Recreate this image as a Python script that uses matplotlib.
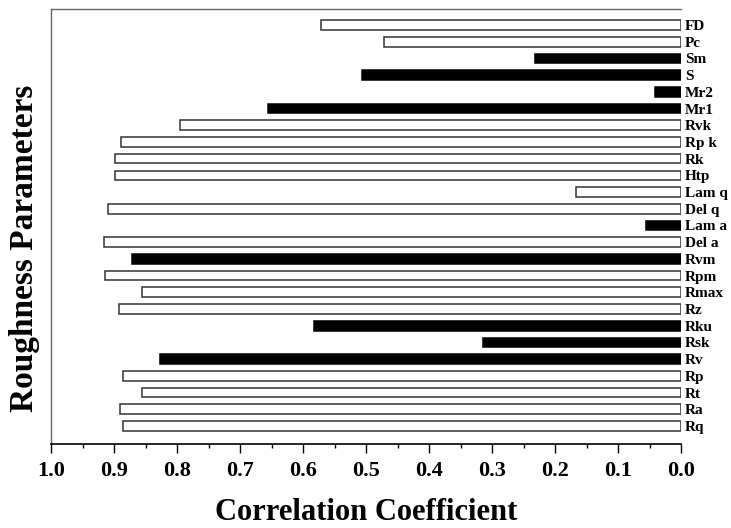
import numpy as np
import matplotlib
matplotlib.use('Agg')
import matplotlib.pyplot as plt
from matplotlib.ticker import MultipleLocator

# parameters listed bottom -> top
params = ['Rq', 'Ra', 'Rt', 'Rp', 'Rv', 'Rsk', 'Rku', 'Rz', 'Rmax', 'Rpm',
          'Rvm', 'Del a', 'Lam a', 'Del q', 'Lam q', 'Htp', 'Rk', 'Rp k',
          'Rvk', 'Mr1', 'Mr2', 'S', 'Sm', 'Pc', 'FD']
corr = [0.886, 0.891, 0.856, 0.886, 0.827, 0.315, 0.582, 0.892, 0.856, 0.914,
        0.872, 0.916, 0.055, 0.910, 0.167, 0.899, 0.899, 0.889,
        0.796, 0.655, 0.041, 0.506, 0.231, 0.472, 0.571]
# 1 = negative correlation (black bar)
negative = [0, 0, 0, 0, 1, 1, 1, 0, 0, 0,
            1, 0, 1, 0, 0, 0, 0, 0,
            0, 1, 1, 1, 1, 0, 0]

plt.rcParams['font.family'] = ['Liberation Serif', 'DejaVu Serif']
plt.rcParams['font.weight'] = 'bold'

fig = plt.figure(figsize=(7.31, 5.28), dpi=100)
ax = fig.add_axes([0.0698, 0.1591, 0.8618, 0.8233])

y = np.arange(len(params))
colors = ['black' if n else 'white' for n in negative]
edges = ['black' if n else '#333333' for n in negative]
ax.barh(y, corr, height=0.58, color=colors, edgecolor=edges, linewidth=1.1)

ax.set_xlim(1.0, 0.0)
ax.set_ylim(-1.08, 24.94)

ax.xaxis.set_major_locator(MultipleLocator(0.1))
ax.xaxis.set_minor_locator(MultipleLocator(0.05))
ax.tick_params(axis='x', which='major', direction='out', length=6.5, width=1.0,
               labelsize=16, pad=6)
ax.tick_params(axis='x', which='minor', direction='out', length=3, width=1.0)
ax.set_xticklabels(['%.1f' % v for v in ax.get_xticks()], fontweight='bold')

ax.yaxis.tick_right()
ax.set_yticks(y)
ax.set_yticklabels(params, fontsize=11, fontweight='bold')
ax.tick_params(axis='y', length=0, pad=3)

ax.spines['right'].set_visible(False)
ax.spines['top'].set_color('#666666')
ax.spines['top'].set_linewidth(1.0)
ax.spines['left'].set_color('#666666')
ax.spines['left'].set_linewidth(1.0)
ax.spines['bottom'].set_linewidth(1.2)

fig.text(0.501, 0.03, 'Correlation Coefficient', fontsize=22, fontweight='bold',
         ha='center', va='center')
fig.text(0.033, 0.53, 'Roughness Parameters', rotation=90, fontsize=24,
         fontweight='bold', ha='center', va='center')

fig.savefig('out.png', dpi=100)
